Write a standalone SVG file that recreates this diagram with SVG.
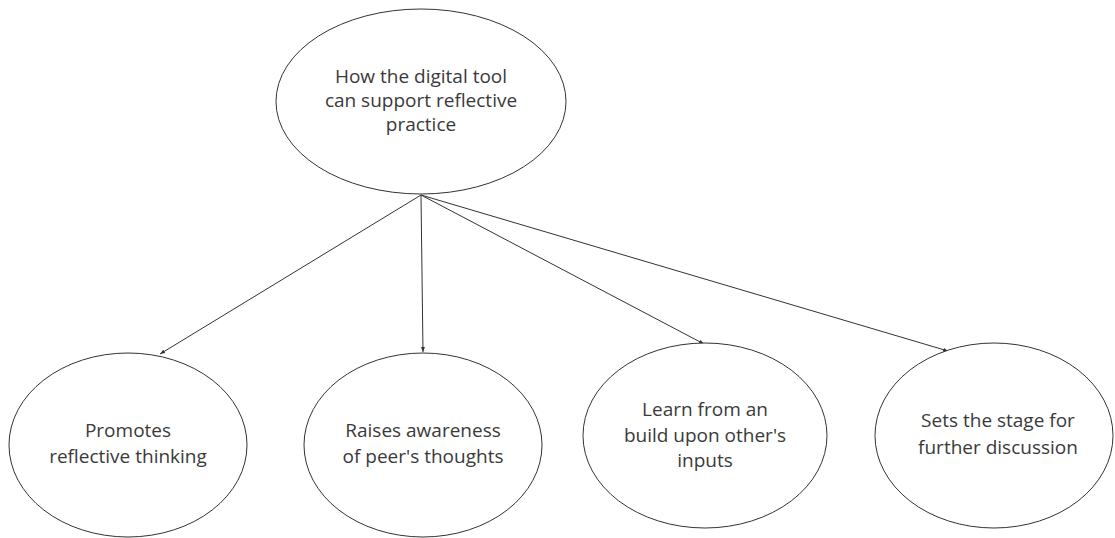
<svg xmlns="http://www.w3.org/2000/svg" width="1115" height="538" viewBox="0 0 1115 538">
<style>
.n{fill:#fff;stroke:#333;stroke-width:1}
.t{font-family:"Open Sans","Liberation Sans",sans-serif;font-size:19px;fill:#3a3a3a;text-anchor:middle}
.c{stroke:#333;stroke-width:1;fill:none;marker-end:url(#a)}
</style>
<defs>
<marker id="a" viewBox="0 0 10 10" refX="10" refY="5" markerWidth="5" markerHeight="5" orient="auto" markerUnits="userSpaceOnUse">
<path d="M0,1 L10,5 L0,9 z" fill="#333"/>
</marker>
</defs>
<rect width="1115" height="538" fill="#fff"/>
<g id="connectors">
<line class="c" x1="421" y1="195" x2="160" y2="354"/>
<line class="c" x1="421" y1="195" x2="423" y2="352"/>
<line class="c" x1="421" y1="195" x2="704" y2="344"/>
<line class="c" x1="421" y1="195" x2="948" y2="351"/>
</g>
<g id="root">
<ellipse class="n" cx="421" cy="101.5" rx="145" ry="92.5"/>
<text class="t" x="421" y="83">How the digital tool</text>
<text class="t" x="421" y="107">can support reflective</text>
<text class="t" x="421" y="131">practice</text>
</g>
<g id="n1">
<ellipse class="n" cx="128" cy="445" rx="119" ry="92"/>
<text class="t" x="128" y="437">Promotes</text>
<text class="t" x="128" y="463">reflective thinking</text>
</g>
<g id="n2">
<ellipse class="n" cx="423" cy="445" rx="119" ry="92"/>
<text class="t" x="423" y="437">Raises awareness</text>
<text class="t" x="423" y="463">of peer's thoughts</text>
</g>
<g id="n3">
<ellipse class="n" cx="705" cy="435.5" rx="122" ry="92.5"/>
<text class="t" x="705" y="416">Learn from an</text>
<text class="t" x="705" y="442">build upon other's</text>
<text class="t" x="705" y="467">inputs</text>
</g>
<g id="n4">
<ellipse class="n" cx="994" cy="435.5" rx="119" ry="92.5"/>
<text class="t" x="998" y="427">Sets the stage for</text>
<text class="t" x="998" y="454">further discussion</text>
</g>
</svg>
